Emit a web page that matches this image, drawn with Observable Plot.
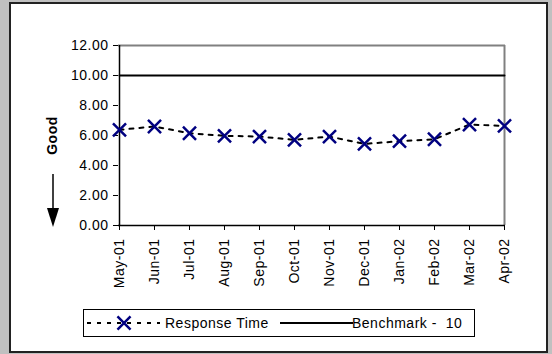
<!DOCTYPE html>
<html>
<head>
<meta charset="utf-8">
<script src="https://cdn.jsdelivr.net/npm/d3@7"></script>
<script src="https://cdn.jsdelivr.net/npm/@observablehq/plot@0.6"></script>
<style>
  html, body { margin: 0; padding: 0; }
  body { width: 552px; height: 354px; background: #c0c0c0; position: relative; overflow: hidden;
         font-family: "Liberation Sans", Arial, sans-serif; }
  #box { position: absolute; left: 9px; top: 2px; width: 535px; height: 347px; background: #fff; border: 2px solid #222; }
  #chart { position: absolute; left: 0; top: 0; }
  #chart svg text { letter-spacing: 0.5px; }
  #legend { position: absolute; left: 83px; top: 309px; width: 390px; height: 26px; border: 1px solid #000; background: #fff; }
  #legend text { letter-spacing: 0.5px; }
</style>
</head>
<body>
<div id="box"></div>
<div id="chart"></div>
<div id="legend"></div>
<script>
const months = ["May-01","Jun-01","Jul-01","Aug-01","Sep-01","Oct-01","Nov-01","Dec-01","Jan-02","Feb-02","Mar-02","Apr-02"];
const responseTime = [6.38, 6.60, 6.15, 5.98, 5.93, 5.71, 5.93, 5.44, 5.62, 5.75, 6.73, 6.64];
const benchmark = [10, 10, 10, 10, 10, 10, 10, 10, 10, 10, 10, 10];
const yTicks = [0, 2, 4, 6, 8, 10, 12];
const seriesNames = ["Response Time", "Benchmark -  10"];
const axisLabel = "Good";

const data = months.map((m, i) => ({month: m, response: responseTime[i], bench: benchmark[i]}));

const chart = Plot.plot({
  width: 552,
  height: 354,
  marginLeft: 118,
  marginRight: 47,
  marginTop: 45,
  marginBottom: 129,
  style: {background: "transparent", fontFamily: "'Liberation Sans', Arial, sans-serif", fontSize: "14px", color: "#000", overflow: "visible"},
  x: {type: "point", domain: months, padding: 0, label: null},
  y: {domain: [0, 12], label: null},
  marks: [
    Plot.ruleY([12], {stroke: "#808080", strokeWidth: 2}),
    Plot.ruleX([months[months.length - 1]], {stroke: "#808080", strokeWidth: 2}),
    Plot.axisY({ticks: yTicks, tickFormat: d3.format(".2f"), tickSize: 5, tickPadding: 5, label: null, fontSize: 14}),
    Plot.axisX({tickRotate: -90, tickSize: 5, tickPadding: 8, label: null, fontSize: 14}),
    Plot.ruleY([0], {stroke: "#000", strokeWidth: 1.5}),
    Plot.ruleX([months[0]], {stroke: "#000", strokeWidth: 1.5}),
    Plot.line(data, {x: "month", y: "bench", stroke: "#000", strokeWidth: 2}),
    Plot.line(data, {x: "month", y: "response", stroke: "#000", strokeWidth: 2, strokeDasharray: "4,6"}),
    Plot.dot(data, {x: "month", y: "response", symbol: "times", r: 6, stroke: "#000080", strokeWidth: 2.5}),
    Plot.text([axisLabel], {frameAnchor: "left", dx: -66, rotate: -90, textAnchor: "middle", fontWeight: "bold", fontSize: 14, fill: "#000"})
  ]
});
document.getElementById("chart").appendChild(chart);

// downward arrow annotation below "Good"
const svg = d3.select(chart);
svg.append("line").attr("x1", 53).attr("x2", 53).attr("y1", 174).attr("y2", 210)
  .attr("stroke", "#000").attr("stroke-width", 1.5);
svg.append("path").attr("d", "M47,208 L59,208 L53,227 Z").attr("fill", "#000");

// legend
const lg = d3.select("#legend").append("svg").attr("width", 390).attr("height", 26)
  .style("display", "block").style("font-family", "'Liberation Sans', Arial, sans-serif").style("font-size", "14px");
const cy = 13;
lg.append("line").attr("x1", 3).attr("x2", 76).attr("y1", cy).attr("y2", cy)
  .attr("stroke", "#000").attr("stroke-width", 2).attr("stroke-dasharray", "4,6");
lg.append("path").attr("d", d3.symbol(d3.symbolTimes, Math.PI * 36)()).attr("transform", `translate(40,${cy})`)
  .attr("stroke", "#000080").attr("stroke-width", 2.5).attr("fill", "none");
lg.append("text").attr("x", 81).attr("y", cy).attr("dy", "0.35em").text(seriesNames[0]);
lg.append("line").attr("x1", 196).attr("x2", 269).attr("y1", cy).attr("y2", cy)
  .attr("stroke", "#000").attr("stroke-width", 2);
lg.append("text").attr("x", 268).attr("y", cy).attr("dy", "0.35em").attr("xml:space", "preserve")
  .style("white-space", "pre").text(seriesNames[1]);
</script>
</body>
</html>
